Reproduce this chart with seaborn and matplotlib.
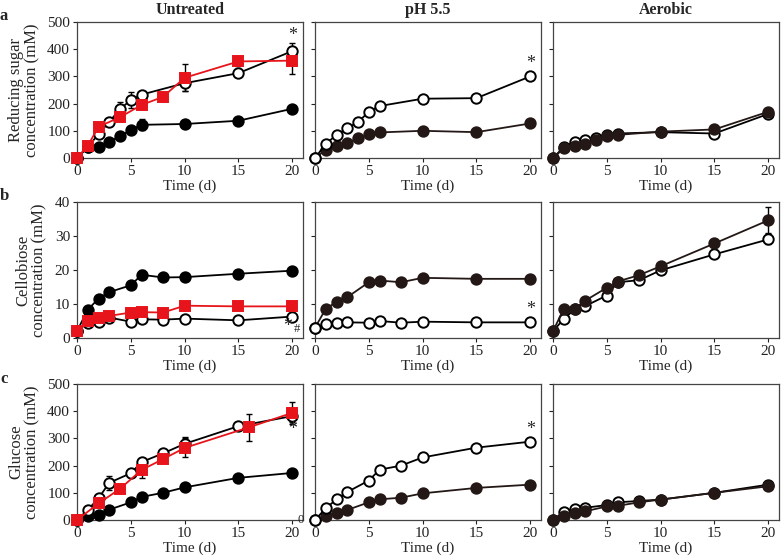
import numpy as np
import seaborn as sns
import matplotlib.pyplot as plt

sns.set_style("ticks")
plt.rcParams['font.family'] = ['Liberation Serif', 'DejaVu Serif']

nan = np.nan
col_titles = ["Untreated", "pH 5.5", "Aerobic"]
row_letters = ["a", "b", "c"]
row_ylabels = ["Reducing sugar\nconcentration (mM)", "Cellobiose\nconcentration (mM)", "Glucose\nconcentration (mM)"]
row_ylims = [(0, 500), (0, 40), (0, 500)]
row_yticks = [[0, 100, 200, 300, 400, 500], [0, 10, 20, 30, 40], [0, 100, 200, 300, 400, 500]]

# time points
t_open = [0, 1, 2, 3, 4, 5, 6, 10, 15, 20]
t_red_a = [0, 1, 2, 4, 6, 8, 10, 15, 20]
t_b = [0, 1, 2, 3, 5, 6, 8, 10, 15, 20]
t_red_c = [0, 2, 4, 6, 8, 10, 16, 20]

# row a: reducing sugar
a_unt_open = [0, 40, 88, 133, 180, 213, 233, 275, 312, 393]
a_unt_open_err = [nan, nan, nan, nan, 25, 30, 15, 30, nan, 30]
a_unt_red = [0, 45, 115, 150, 195, 225, 295, 355, 358]
a_unt_red_err = [nan, nan, nan, nan, nan, nan, 50, 15, 50]
a_unt_fill = [0, 40, 42, 60, 80, 103, 122, 125, 137, 181]
a_unt_fill_err = [nan, nan, nan, nan, nan, nan, 20, nan, nan, nan]
a_ph_open = [0, 52, 85, 110, 132, 170, 191, 218, 220, 300]
a_ph_fill = [0, 30, 45, 54, 73, 88, 94, 100, 95, 127]
a_aer_open = [0, 40, 60, 65, 75, 85, 90, 95, 90, 162]
a_aer_fill = [0, 35, 45, 50, 65, 80, 85, 97, 105, 170]

# row b: cellobiose
b_unt_fill = [2, 8.3, 11.6, 13.5, 15.5, 18.6, 17.8, 17.9, 18.9, 19.8]
b_unt_fill_err = [nan, nan, nan, nan, nan, 1.3, 1.1, nan, nan, nan]
b_unt_red = [2, 4.9, 5.8, 6.5, 7.5, 7.6, 7.5, 9.5, 9.3, 9.3]
b_unt_open = [2, 4.5, 4.8, 6.0, 4.8, 5.5, 5.4, 5.7, 5.2, 6.3]
b_ph_fill = [3, 8.6, 10.6, 12, 16.4, 16.9, 16.4, 17.7, 17.4, 17.4]
b_ph_open = [3, 4.1, 4.4, 4.6, 4.5, 5.0, 4.5, 4.8, 4.6, 4.6]
b_aer_fill = [2, 8.6, 8.5, 11, 14.8, 16.6, 18.5, 21.1, 27.8, 34.6]
b_aer_fill_err = [nan, nan, nan, nan, nan, 1.0, nan, nan, nan, 3.8]
b_aer_open = [2, 5.6, 8.4, 9.4, 12.5, 16.4, 17.0, 19.9, 24.6, 29.0]
b_aer_open_err = [nan, nan, nan, nan, nan, nan, nan, nan, nan, 1.5]

# row c: glucose
c_unt_open = [0, 37, 80, 137, 172, 213, 245, 280, 345, 382]
c_unt_open_err = [nan, nan, nan, 25, nan, 10, nan, 25, nan, 20]
c_unt_red = [0, 61, 115, 184, 224, 265, 341, 394]
c_unt_red_err = [nan, nan, nan, 30, nan, 35, 50, 40]
c_unt_fill = [0, 15, 20, 38, 65, 85, 100, 120, 155, 173]
c_ph_open = [0, 43, 76, 103, 145, 185, 200, 230, 266, 288]
c_ph_fill = [0, 15, 27, 37, 65, 76, 82, 98, 118, 130]
c_aer_open = [0, 30, 40, 45, 55, 65, 70, 75, 100, 130]
c_aer_fill = [0, 15, 25, 32, 50, 52, 65, 75, 100, 124]

RED = "#e8141b"
DARK = "#231815"

fig = plt.figure(figsize=(7.84, 5.59), dpi=100)
lefts = [77 / 784, 315 / 784, 553 / 784]
bottoms = [1 - 158 / 559, 1 - 338 / 559, 1 - 520 / 559]
w = 226 / 784
h = 136 / 559


def series(ax, x, y, kind, err=None, fill_color="black"):
    if kind == "open":
        fc, ec, c, m, ms = "white", "black", "black", "o", 7.5
    elif kind == "fill":
        fc, ec, c, m, ms = fill_color, fill_color, fill_color, "o", 7.5
    else:
        fc, ec, c, m, ms = RED, RED, RED, "s", 7
    if err is not None:
        ax.errorbar(x, y, yerr=err, fmt="none", ecolor="black", elinewidth=1,
                    capsize=2.5, capthick=1, zorder=2, clip_on=False)
    sns.lineplot(x=x, y=y, ax=ax, color=c, linewidth=1.3, marker=m,
                 markersize=ms, markerfacecolor=fc, markeredgecolor=ec,
                 markeredgewidth=1.4, clip_on=False, zorder=3)


axes = [[None] * 3 for _ in range(3)]
for r in range(3):
    for c in range(3):
        ax = fig.add_axes([lefts[c], bottoms[r], w, h])
        axes[r][c] = ax

# row a
series(axes[0][0], t_open, a_unt_fill, "fill", a_unt_fill_err)
series(axes[0][0], t_open, a_unt_open, "open", a_unt_open_err)
series(axes[0][0], t_red_a, a_unt_red, "red", a_unt_red_err)
series(axes[0][1], t_open, a_ph_fill, "fill", fill_color=DARK)
series(axes[0][1], t_open, a_ph_open, "open")
series(axes[0][2], t_open, a_aer_open, "open")
series(axes[0][2], t_open, a_aer_fill, "fill", fill_color=DARK)

# row b
series(axes[1][0], t_b, b_unt_fill, "fill", b_unt_fill_err)
series(axes[1][0], t_b, b_unt_open, "open")
series(axes[1][0], t_b, b_unt_red, "red")
series(axes[1][1], t_b, b_ph_fill, "fill", fill_color=DARK)
series(axes[1][1], t_b, b_ph_open, "open")
series(axes[1][2], t_b, b_aer_open, "open", b_aer_open_err)
series(axes[1][2], t_b, b_aer_fill, "fill", b_aer_fill_err, fill_color=DARK)

# row c
series(axes[2][0], t_b, c_unt_fill, "fill")
series(axes[2][0], t_b, c_unt_open, "open", c_unt_open_err)
series(axes[2][0], t_red_c, c_unt_red, "red", c_unt_red_err)
series(axes[2][1], t_b, c_ph_fill, "fill", fill_color=DARK)
series(axes[2][1], t_b, c_ph_open, "open")
series(axes[2][2], t_b, c_aer_open, "open")
series(axes[2][2], t_b, c_aer_fill, "fill", fill_color=DARK)

for r in range(3):
    for c in range(3):
        ax = axes[r][c]
        ax.set_xlim(0, 21)
        ax.set_ylim(*row_ylims[r])
        ax.set_xticks([0, 5, 10, 15, 20])
        ax.set_yticks(row_yticks[r])
        ax.tick_params(direction="out", length=3, width=0.8, labelsize=11,
                       colors="#222222", pad=2)
        for s in ax.spines.values():
            s.set_color("#444444")
            s.set_linewidth(0.9)
        ax.set_xlabel("Time (d)", fontsize=11, labelpad=1)
        if c == 0:
            ax.set_ylabel(row_ylabels[r], fontsize=12, labelpad=5, linespacing=1.0)
        else:
            ax.set_ylabel("")
            ax.set_yticklabels([])
        if r == 0:
            ax.set_title(col_titles[c], fontsize=11.5, fontweight="bold", pad=6)

# significance marks
axes[0][0].text(20, 420, "*", ha="center", va="bottom", fontsize=13)
axes[0][1].text(20, 315, "*", ha="center", va="bottom", fontsize=13)
axes[1][0].text(20, 1.0, "*", ha="right", va="bottom", fontsize=13)
axes[1][0].text(20.1, 1.0, "#", ha="left", va="bottom", fontsize=9)
axes[1][1].text(20, 5.8, "*", ha="center", va="bottom", fontsize=13)
axes[2][0].text(20, 300, "*", ha="center", va="bottom", fontsize=13)
axes[2][0].text(20.8, 0, "0", ha="center", va="center", fontsize=9)
axes[2][1].text(20, 300, "*", ha="center", va="bottom", fontsize=13)

for r, y in enumerate([0.972, 0.650, 0.322]):
    fig.text(0.0, y, row_letters[r], fontsize=12, fontweight="bold", ha="left", va="center")

fig.savefig("out.png", dpi=100)
